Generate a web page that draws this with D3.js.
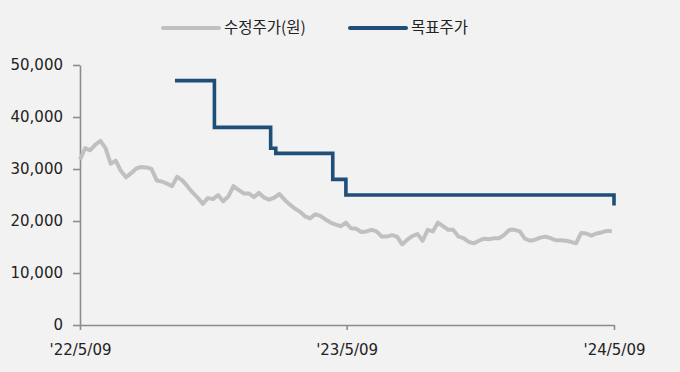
<!DOCTYPE html>
<html>
<head>
<meta charset="utf-8">
<script src="https://cdn.jsdelivr.net/npm/d3@7"></script>
<style>
  html, body { margin: 0; padding: 0; background: #f2f2f2; }
  svg { display: block; }
</style>
</head>
<body>
<svg id="chart"></svg>
<script>
// weekly closes (adjusted price, won)
const priceDates = [
  '2022-05-09','2022-05-16','2022-05-23','2022-05-30','2022-06-06','2022-06-13','2022-06-20','2022-06-27',
  '2022-07-04','2022-07-11','2022-07-18','2022-07-25','2022-08-01','2022-08-08','2022-08-15','2022-08-22',
  '2022-08-29','2022-09-05','2022-09-12','2022-09-19','2022-09-26','2022-10-03','2022-10-10','2022-10-17',
  '2022-10-24','2022-10-31','2022-11-07','2022-11-14','2022-11-21','2022-11-28','2022-12-05','2022-12-12',
  '2022-12-19','2022-12-26',
  '2023-01-02','2023-01-09','2023-01-16','2023-01-23','2023-01-30','2023-02-06','2023-02-13','2023-02-20',
  '2023-02-27','2023-03-06','2023-03-13','2023-03-20','2023-03-27','2023-04-03','2023-04-10','2023-04-17',
  '2023-04-24','2023-05-01','2023-05-08','2023-05-15','2023-05-22','2023-05-29','2023-06-05','2023-06-12',
  '2023-06-19','2023-06-26','2023-07-03','2023-07-10','2023-07-17','2023-07-24','2023-07-31','2023-08-07',
  '2023-08-14','2023-08-21','2023-08-28','2023-09-04','2023-09-11','2023-09-18','2023-09-25','2023-10-02',
  '2023-10-09','2023-10-16','2023-10-23','2023-10-30','2023-11-06','2023-11-13','2023-11-20','2023-11-27',
  '2023-12-04','2023-12-11','2023-12-18','2023-12-25',
  '2024-01-01','2024-01-08','2024-01-15','2024-01-22','2024-01-29','2024-02-05','2024-02-12','2024-02-19',
  '2024-02-26','2024-03-04','2024-03-11','2024-03-18','2024-03-25','2024-04-01','2024-04-08','2024-04-15',
  '2024-04-22','2024-04-29','2024-05-06'
];
const priceValues = [
  31800, 34000, 33600, 34700, 35400, 34000, 31000, 31600,
  29600, 28400, 29200, 30100, 30400, 30300, 30000, 27800,
  27600, 27200, 26700, 28500, 27800, 26700, 25500, 24500,
  23300, 24400, 24200, 25000, 23800, 24700, 26700, 26000,
  25300, 25300,
  24600, 25400, 24500, 24100, 24500, 25200, 24100, 23200,
  22400, 21800, 20900, 20500, 21300, 21000, 20300, 19700,
  19300, 19000, 19700, 18600, 18500, 17900, 18000, 18300,
  18000, 17000, 17000, 17300, 17000, 15500, 16400, 17100,
  17500, 16200, 18300, 18000, 19700, 19000, 18300, 18300,
  17000, 16700, 16000, 15700, 16200, 16600, 16500, 16700,
  16700, 17400, 18300, 18300,
  18000, 16600, 16200, 16400, 16800, 17000, 16700, 16300,
  16300, 16200, 16000, 15700, 17700, 17600, 17200, 17600,
  17800, 18100, 18100
];

// target price changes (value holds until the next date)
const targetDates = ['2022-09-16', '2022-11-09', '2023-01-25', '2023-02-01', '2023-04-20', '2023-05-08', '2024-05-09'];
const targetValues = [47000, 38000, 34000, 33000, 28000, 25000, 23000];

const yTicks = [0, 10000, 20000, 30000, 40000, 50000];
const xTicks = ['2022-05-09', '2023-05-09', '2024-05-09'];
const xTickLabels = ["'22/5/09", "'23/5/09", "'24/5/09"];
const seriesNames = ['수정주가(원)', '목표주가'];

const width = 680;
const height = 372;
const margin = { top: 65, right: 66, bottom: 47, left: 80 };

const parse = d3.timeParse('%Y-%m-%d');
const grey = '#c0c0c0';
const navy = '#1f4e79';
const axisColor = '#8c8c8c';
const font = '"DejaVu Sans", "Noto Sans CJK KR", sans-serif';

const svg = d3.select('#chart')
  .attr('width', width)
  .attr('height', height)
  .style('font-family', font);

const x = d3.scaleTime()
  .domain([parse(xTicks[0]), parse(xTicks[xTicks.length - 1])])
  .range([margin.left, width - margin.right]);

const y = d3.scaleLinear()
  .domain([0, 50000])
  .range([height - margin.bottom, margin.top]);

const price = priceDates.map((d, i) => ({ date: parse(d), value: priceValues[i] }));
const target = targetDates.map((d, i) => ({ date: parse(d), value: targetValues[i] }));

// axes
const yAxis = svg.append('g')
  .attr('transform', `translate(${margin.left},0)`)
  .call(d3.axisLeft(y).tickValues(yTicks).tickFormat(d3.format(',')).tickSize(7).tickSizeOuter(0).tickPadding(10));

const xAxis = svg.append('g')
  .attr('transform', `translate(0,${height - margin.bottom})`)
  .call(d3.axisBottom(x)
    .tickValues(xTicks.map(parse))
    .tickFormat((d, i) => xTickLabels[i])
    .tickSize(5).tickSizeOuter(0).tickPadding(14));

[yAxis, xAxis].forEach((g) => {
  g.selectAll('path, line').attr('stroke', axisColor).attr('stroke-width', 1.6);
  g.selectAll('text')
    .attr('fill', '#222')
    .style('font-family', font)
    .style('font-size', '15px');
});

// lines
const line = d3.line()
  .x((d) => x(d.date))
  .y((d) => y(d.value));

svg.append('path')
  .datum(price)
  .attr('fill', 'none')
  .attr('stroke', grey)
  .attr('stroke-width', 4)
  .attr('stroke-linejoin', 'round')
  .attr('d', line);

svg.append('path')
  .datum(target)
  .attr('fill', 'none')
  .attr('stroke', navy)
  .attr('stroke-width', 3.6)
  .attr('stroke-linejoin', 'miter')
  .attr('d', line.curve(d3.curveStepAfter));

// legend
const legendItems = [
  { name: seriesNames[0], color: grey, x: 163 },
  { name: seriesNames[1], color: navy, x: 350 }
];

const legend = svg.append('g')
  .selectAll('g')
  .data(legendItems)
  .join('g')
  .attr('transform', (d) => `translate(${d.x},28)`);

legend.append('line')
  .attr('x1', 0)
  .attr('x2', 56)
  .attr('stroke', (d) => d.color)
  .attr('stroke-width', 4)
  .attr('stroke-linecap', 'round');

legend.append('text')
  .attr('x', 61)
  .attr('dy', '0.35em')
  .attr('fill', '#222')
  .style('font-family', '"Noto Sans CJK KR", sans-serif')
  .style('font-size', '15.5px')
  .text((d) => d.name);
</script>
</body>
</html>
